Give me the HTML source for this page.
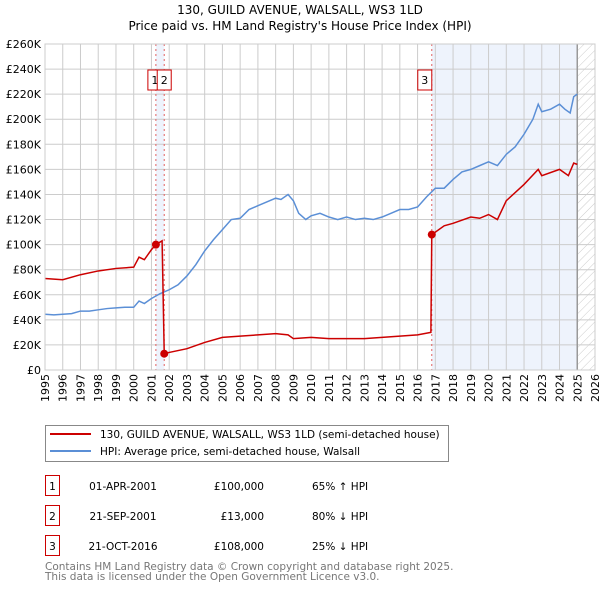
<!DOCTYPE html>
<html><head><meta charset="utf-8"><style>
body{margin:0;background:#fff;width:600px;height:590px;overflow:hidden;font-family:"DejaVu Sans","Liberation Sans",sans-serif}
svg text{font-family:"DejaVu Sans","Liberation Sans",sans-serif}
</style></head><body>
<svg id="c" width="600" height="590" viewBox="0 0 600 590">
<defs><pattern id="hatch" width="6" height="6" patternUnits="userSpaceOnUse" patternTransform="rotate(45)"><line x1="0" y1="0" x2="0" y2="6" stroke="#ccc" stroke-width="1"/></pattern></defs>
<text x="300" y="14" text-anchor="middle" font-size="12">130, GUILD AVENUE, WALSALL, WS3 1LD</text>
<text x="300" y="30" text-anchor="middle" font-size="12">Price paid vs. HM Land Registry's House Price Index (HPI)</text>
<g id="plot"></g>
<g>
<rect x="45.5" y="425.5" width="403" height="36" fill="#fff" stroke="#888"/>
<line x1="50" y1="434" x2="91" y2="434" stroke="#cc0000" stroke-width="2"/>
<text x="100" y="438" font-size="10.5">130, GUILD AVENUE, WALSALL, WS3 1LD (semi-detached house)</text>
<line x1="50" y1="451" x2="91" y2="451" stroke="#5b8fd6" stroke-width="2"/>
<text x="100" y="455" font-size="10.5">HPI: Average price, semi-detached house, Walsall</text>
</g>
<g font-size="10.5">
<rect x="45.5" y="475.5" width="14" height="20" fill="#fff" stroke="#cc0000"/><text x="52.5" y="490" text-anchor="middle">1</text>
<text x="123" y="490" text-anchor="middle">01-APR-2001</text><text x="264" y="490" text-anchor="end">£100,000</text><text x="312" y="490">65% ↑ HPI</text>
<rect x="45.5" y="505.5" width="14" height="20" fill="#fff" stroke="#cc0000"/><text x="52.5" y="520" text-anchor="middle">2</text>
<text x="123" y="520" text-anchor="middle">21-SEP-2001</text><text x="264" y="520" text-anchor="end">£13,000</text><text x="312" y="520">80% ↓ HPI</text>
<rect x="45.5" y="535.5" width="14" height="20" fill="#fff" stroke="#cc0000"/><text x="52.5" y="550" text-anchor="middle">3</text>
<text x="123" y="550" text-anchor="middle">21-OCT-2016</text><text x="264" y="550" text-anchor="end">£108,000</text><text x="312" y="550">25% ↓ HPI</text>
</g>
<text x="45" y="570" font-size="10.5" fill="#777">Contains HM Land Registry data © Crown copyright and database right 2025.</text>
<text x="45" y="580" font-size="10.5" fill="#777">This data is licensed under the Open Government Licence v3.0.</text>
</svg>
<script>
const yearTicks=[1995,1996,1997,1998,1999,2000,2001,2002,2003,2004,2005,2006,2007,2008,2009,2010,2011,2012,2013,2014,2015,2016,2017,2018,2019,2020,2021,2022,2023,2024,2025,2026];
const priceTicks=[0,20,40,60,80,100,120,140,160,180,200,220,240,260];
const hpiYears=[1995,1995.5,1996,1996.5,1997,1997.5,1998,1998.5,1999,1999.5,2000,2000.3,2000.6,2001,2001.5,2002,2002.5,2003,2003.5,2004,2004.5,2005,2005.5,2006,2006.5,2007,2007.5,2008,2008.3,2008.7,2009,2009.3,2009.7,2010,2010.5,2011,2011.5,2012,2012.5,2013,2013.5,2014,2014.5,2015,2015.5,2016,2016.5,2017,2017.5,2018,2018.5,2019,2019.5,2020,2020.5,2021,2021.5,2022,2022.5,2022.8,2023,2023.5,2024,2024.3,2024.6,2024.8,2025];
const hpiValues=[44.5,44,44.5,45,47,47,48,49,49.5,50,50,55,53,57,61,64,68,75,84,95,104,112,120,121,128,131,134,137,136,140,135,125,120,123,125,122,120,122,120,121,120,122,125,128,128,130,138,145,145,152,158,160,163,166,163,172,178,188,200,212,206,208,212,208,205,218,220];
const redYears=[1995,1996,1997,1998,1999,2000,2000.3,2000.6,2001,2001.25,2001.6,2001.72,2002,2003,2004,2005,2006,2007,2008,2008.7,2009,2010,2011,2012,2013,2014,2015,2016,2016.75,2016.8,2017,2017.5,2018,2019,2019.5,2020,2020.5,2021,2022,2022.8,2023,2024,2024.5,2024.8,2025];
const redValues=[73,72,76,79,81,82,90,88,96,100,103,13,14,17,22,26,27,28,29,28,25,26,25,25,25,26,27,28,30,108,110,115,117,122,121,124,120,135,148,160,155,160,155,165,164];
const saleYears=[2001.25,2001.72,2016.8];
const saleValues=[100,13,108];
const saleLabels=["1","2","3"];
const NS="http://www.w3.org/2000/svg";
const X0=45,X1=595,Y0=370,Y1=44;
const xs=y=>X0+(y-1995)/(2026-1995)*(X1-X0);
const ys=v=>Y0-v/260*(Y0-Y1);
const g=document.getElementById('plot');
function el(t,a,p){const e=document.createElementNS(NS,t);for(const k in a)e.setAttribute(k,a[k]);(p||g).appendChild(e);return e;}
let r=el('rect',{x:xs(2016.8),y:Y1,width:xs(2025)-xs(2016.8),height:Y0-Y1,fill:'#eef3fc'});


r=el('rect',{x:xs(2001.25),y:Y1,width:xs(2001.72)-xs(2001.25),height:Y0-Y1,fill:'#eef3fc'});


r=el('rect',{x:xs(2025),y:Y1,width:X1-xs(2025),height:Y0-Y1,fill:'url(#hatch)'});


yearTicks.forEach(y=>{el('line',{x1:xs(y),x2:xs(y),y1:Y1,y2:Y0,stroke:'#ccc'});
 const tx=xs(y)+4,ty=Y0+4;
 const t=el('text',{x:tx,y:ty,'text-anchor':'end','font-size':'11',transform:'rotate(-90 '+tx+' '+ty+')'});t.textContent=y;
 
 });
priceTicks.forEach(v=>{el('line',{x1:X0,x2:X1,y1:ys(v),y2:ys(v),stroke:'#ccc'});
 const t=el('text',{x:X0-4,y:ys(v)+4,'text-anchor':'end','font-size':'11'});t.textContent=v==0?'£0':'£'+v+'K';
 
 });
el('line',{x1:xs(2025),x2:xs(2025),y1:Y1,y2:Y0,stroke:'#999','stroke-width':1.5});
saleYears.forEach(y=>{el('line',{x1:xs(y),x2:xs(y),y1:Y1,y2:Y0,stroke:'#e06060','stroke-dasharray':'2,3'});});
let p=el('polyline',{points:hpiYears.map((y,i)=>xs(y)+','+ys(hpiValues[i])).join(' '),fill:'none',stroke:'#5b8fd6','stroke-width':1.5});


p=el('polyline',{points:redYears.map((y,i)=>xs(y)+','+ys(redValues[i])).join(' '),fill:'none',stroke:'#cc0000','stroke-width':1.5});


saleYears.forEach((y,i)=>{const c=el('circle',{cx:xs(y),cy:ys(saleValues[i]),r:4,fill:'#cc0000'});
 
 
 const bx=i==0?xs(y)-8:(i==1?xs(y)-7:xs(y)-14);
 const b=el('rect',{x:bx,y:70,width:14,height:20,fill:'#fff',stroke:'#cc0000'});
 
 
 const t=el('text',{x:bx+7,y:84,'text-anchor':'middle','font-size':'11'});t.textContent=saleLabels[i];
 
 });
el('rect',{x:X0,y:Y1,width:X1-X0,height:Y0-Y1,fill:'none',stroke:'#ccc'});
</script>
</body></html>
